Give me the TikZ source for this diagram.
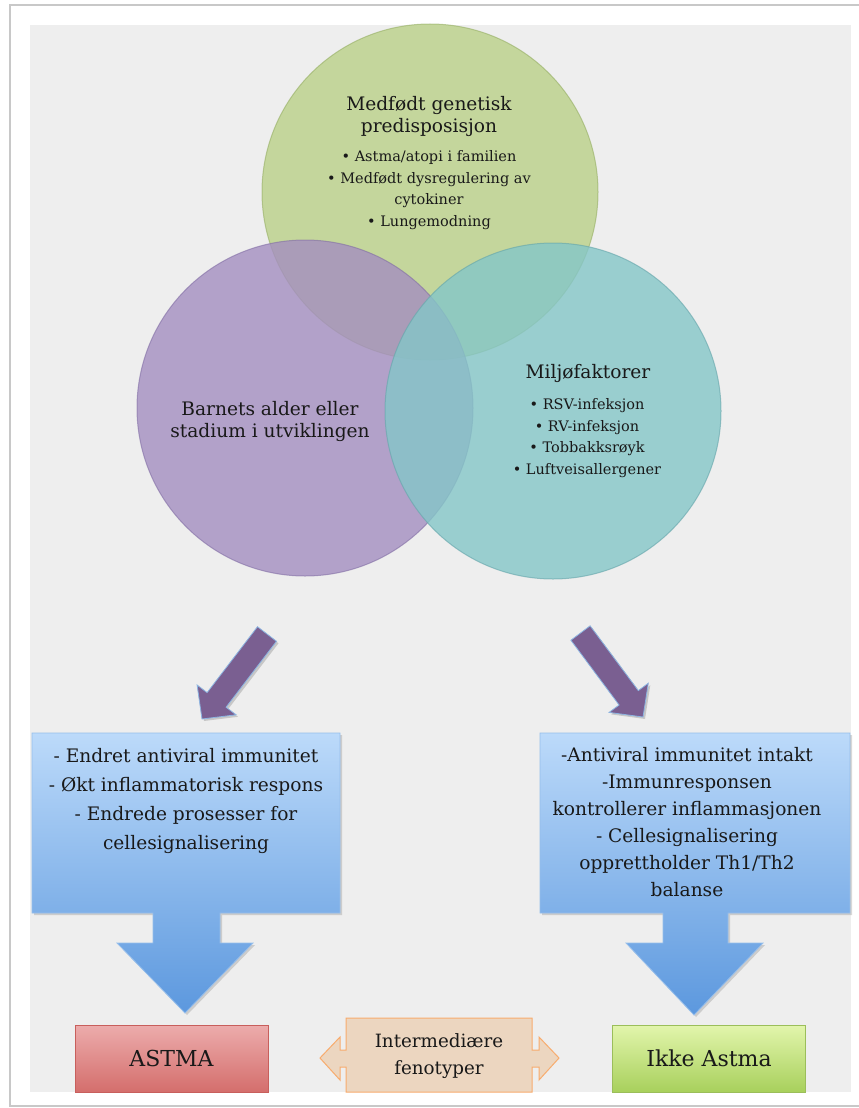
\documentclass[tikz,border=0pt]{standalone}
\usepackage{fontspec}
\setmainfont{DejaVu Serif}
\usepackage{xcolor}
\usetikzlibrary{shadows}

\definecolor{bakgrunn}{RGB}{238,238,238}
\definecolor{rammegraa}{RGB}{200,200,200}
\definecolor{tekstfarge}{RGB}{25,25,25}
\definecolor{gronn}{RGB}{186,208,136}
\definecolor{gronnkant}{RGB}{150,175,100}
\definecolor{lilla}{RGB}{164,142,192}
\definecolor{lillakant}{RGB}{130,110,165}
\definecolor{turkis}{RGB}{132,198,200}
\definecolor{turkiskant}{RGB}{100,165,170}
\definecolor{lillapilfarge}{RGB}{122,95,145}
\definecolor{pilkant}{RGB}{140,180,225}
\definecolor{blaatopp}{RGB}{188,218,250}
\definecolor{blaabunn}{RGB}{92,152,222}
\definecolor{blaakant}{RGB}{150,190,235}
\definecolor{rodtopp}{RGB}{236,172,172}
\definecolor{rodbunn}{RGB}{212,110,108}
\definecolor{rodkant}{RGB}{200,95,92}
\definecolor{grontopp}{RGB}{226,245,172}
\definecolor{gronbunn}{RGB}{168,208,92}
\definecolor{gronkant}{RGB}{155,190,90}
\definecolor{fersken}{RGB}{236,214,192}
\definecolor{oransjekant}{RGB}{248,172,110}

\tikzset{
  sirkel/.style={circle,minimum size=336pt,inner sep=0pt,fill opacity=0.8,draw opacity=0.6,line width=1pt},
  tittel/.style={align=center,text=tekstfarge,font=\fontsize{18.6}{22}\selectfont},
  punkter/.style={align=center,text=tekstfarge,font=\fontsize{14.5}{21.5}\selectfont},
  lillapil/.style={fill=lillapilfarge,draw=pilkant,line width=0.8pt,line join=miter,
    drop shadow={opacity=0.35,shadow xshift=2pt,shadow yshift=-2pt}},
  blaaform/.style={top color=blaatopp,bottom color=blaabunn,draw=blaakant,line width=0.8pt,
    drop shadow={opacity=0.3,shadow xshift=2pt,shadow yshift=-2pt}},
  bokstekst/.style={align=center,text=tekstfarge,font=\fontsize{18.6}{29}\selectfont},
  utfall/.style={rectangle,minimum width=193pt,minimum height=67pt,inner sep=0pt,line width=0.8pt,
    text=tekstfarge,font=\fontsize{22}{26}\selectfont},
  mellomform/.style={fill=fersken,draw=oransjekant,line width=1pt},
  mellomtekst/.style={align=center,text=tekstfarge,font=\fontsize{18.3}{27}\selectfont}
}

\begin{document}
\begin{tikzpicture}[x=1pt,y=-1pt]
\useasboundingbox (0,0) rectangle (859,1108);
\clip (0,0) rectangle (859,1108);
% side og bakgrunn
\fill[white] (0,0) rectangle (859,1108);
\draw[rammegraa,line width=1.2pt] (10,5) rectangle (880,1106);
\fill[bakgrunn] (30,25) rectangle (851,1092);

% Venn-diagram
\node[sirkel,fill=gronn,draw=gronnkant] (genetikk) at (430,192) {};
\node[sirkel,fill=lilla,draw=lillakant] (alder) at (305,408) {};
\node[sirkel,fill=turkis,draw=turkiskant] (miljo) at (553,411) {};

\node[tittel] (genetikktittel) at (429,116) {Medfødt genetisk\\predisposisjon};
\node[punkter] (genetikkpunkter) at (429,190) {\textbullet\ Astma/atopi i familien\\\textbullet\ Medfødt dysregulering av\\cytokiner\\\textbullet\ Lungemodning};
\node[tittel] (aldertittel) at (270,421) {Barnets alder eller\\stadium i utviklingen};
\node[tittel] (miljotittel) at (588,373) {Miljøfaktorer};
\node[punkter] (miljopunkter) at (587,438) {\textbullet\ RSV-infeksjon\\\textbullet\ RV-infeksjon\\\textbullet\ Tobbakksrøyk\\\textbullet\ Luftveisallergener};

% piler ned
\path[lillapil] (257.5,626.7) -- (276.5,641.3) -- (226.1,707.2) -- (236.1,714.8) -- (202,719)
  -- (197.1,685.0) -- (207.1,692.6) -- cycle;
\path[lillapil] (590.1,625.8) -- (638.3,690.6) -- (648.3,683.2) -- (643,717) -- (609.1,712.4)
  -- (619.1,705.0) -- (570.9,640.2) -- cycle;

% bokser med pil
\path[blaaform] (32,733) -- (340,733) -- (340,913) -- (220,913) -- (220,943) -- (253,943) -- (185,1013)
  -- (117,943) -- (153,943) -- (153,913) -- (32,913) -- cycle;
\node[bokstekst] (endret) at (186,801) {- Endret antiviral immunitet\\- Økt inflammatorisk respons\\- Endrede prosesser for\\cellesignalisering};
\path[blaaform] (540,733) -- (850,733) -- (850,913) -- (728,913) -- (728,943) -- (763,943) -- (694,1015)
  -- (626,943) -- (663,943) -- (663,913) -- (540,913) -- cycle;
\node[bokstekst,font=\fontsize{18.6}{27}\selectfont] (intakt) at (687,822) {-Antiviral immunitet intakt\\-Immunresponsen\\kontrollerer inflammasjonen\\- Cellesignalisering\\opprettholder Th1/Th2\\balanse};

% utfall
\node[utfall,top color=rodtopp,bottom color=rodbunn,draw=rodkant] (astma) at (171.5,1058.5) {ASTMA};
\node[utfall,top color=grontopp,bottom color=gronbunn,draw=gronkant] (ikkeastma) at (709,1058.5) {Ikke Astma};
\path[mellomform] (346,1018) -- (532,1018) -- (532,1050) -- (539,1050) -- (539,1037) -- (559,1058)
  -- (539,1080) -- (539,1067) -- (532,1067) -- (532,1092) -- (346,1092) -- (346,1067) -- (340,1067)
  -- (340,1080) -- (320,1058) -- (340,1037) -- (340,1050) -- (346,1050) -- cycle;
\node[mellomtekst] (mellom) at (439,1056) {Intermediære\\fenotyper};
\end{tikzpicture}
\end{document}
